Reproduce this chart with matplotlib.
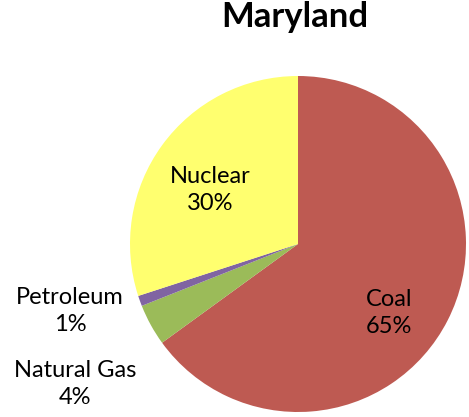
import matplotlib.pyplot as plt

sources = ["Coal", "Natural Gas", "Petroleum", "Nuclear"]
shares = [65, 4, 1, 30]
colors = ["#BE5A52", "#9BBB59", "#8064A2", "#FFFF6F"]
# label anchor (pixel coords, y from top)
label_pos = [(389, 313), (75, 384), (70, 311), (210, 190)]

fig = plt.figure(figsize=(4.69, 4.17), dpi=100)
ax = fig.add_axes([0, 0, 1, 1])

# pie: centre and radius in pixel coords; inverted y makes counterclock look clockwise
ax.pie(shares, colors=colors, startangle=-90, counterclock=True,
       center=(298, 244), radius=168, frame=True,
       wedgeprops={"linewidth": 0})
ax.set_xlim(0, 469)
ax.set_ylim(417, 0)
ax.set_aspect("equal")
ax.axis("off")

for name, pct, (x, y) in zip(sources, shares, label_pos):
    ax.text(x, y, f"{name}\n{pct}%", ha="center", va="center",
            fontsize=17, family="Lato", linespacing=1.35)

fig.text(295 / 469, 1 - 17 / 417, "Maryland", ha="center", va="center",
         fontsize=25, fontweight="bold", family="Lato")

fig.savefig("out.png", dpi=100)
